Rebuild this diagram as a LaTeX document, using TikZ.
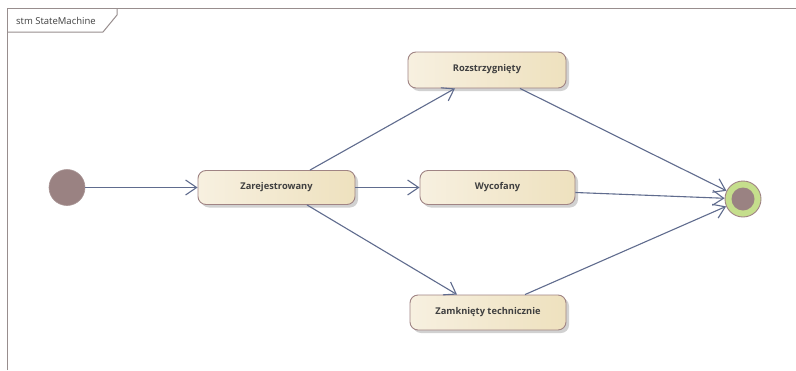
\documentclass[tikz,border=0pt]{standalone}
\usepackage{fontspec}
\setmainfont{Open Sans}
\usetikzlibrary{arrows.meta,calc,shadows}
\definecolor{framegray}{RGB}{152,142,142}
\definecolor{statebrd}{RGB}{160,132,132}
\definecolor{stateL}{RGB}{247,240,224}
\definecolor{stateR}{RGB}{238,225,190}
\definecolor{pseudo}{RGB}{154,130,130}
\definecolor{finalring}{RGB}{197,222,140}
\definecolor{flow}{RGB}{96,108,142}
\definecolor{txt}{RGB}{64,64,64}
\tikzset{
  statebox/.style={draw=statebrd, line width=0.9pt, rounded corners=8pt,
    left color=stateL, right color=stateR, shading angle=90,
    minimum height=34pt, text=txt, font=\fontsize{9.3}{11}\selectfont\bfseries,
    drop shadow={shadow xshift=3pt, shadow yshift=-3pt, fill=black!18, opacity=1}},
  flowline/.style={draw=flow, line width=1.1pt,
    -{Straight Barb[length=11pt,width=15pt,line width=1.1pt]}},
  initstate/.style={circle, fill=pseudo, draw=pseudo!85!white, line width=0.6pt,
    minimum size=36pt, inner sep=0pt},
}
\begin{document}
\begin{tikzpicture}[x=1pt,y=-1pt]
\useasboundingbox (0,0) rectangle (796,370);
\fill[white] (0,0) rectangle (796,370);

% diagram frame and its name tab
\draw[framegray, line width=1.6pt] (7.5,370) -- (7.5,8.5) -- (796,8.5);
\draw[framegray, line width=1pt] (7.5,32) -- (103,32) -- (117,15) -- (117,8.5);
\node[anchor=west, text=txt, font=\fontsize{9.5}{12}\selectfont, inner sep=0pt]
  (tab) at (16,20.5) {stm StateMachine};

% states
\node[initstate] (init) at (67,187.5) {};
\node[statebox, minimum width=157pt] (zar) at (276.5,187.5) {\raisebox{4pt}{Zarejestrowany}};
\node[statebox, minimum width=158pt, minimum height=36pt] (roz) at (487,70) {\raisebox{4pt}{Rozstrzygnięty}};
\node[statebox, minimum width=155pt] (wyc) at (497.5,187.5) {\raisebox{4pt}{Wycofany}};
\node[statebox, minimum width=156pt, minimum height=35pt] (zam) at (488,312.5) {\raisebox{4pt}{Zamknięty technicznie}};

% final state
\node[circle, fill=finalring, draw=statebrd, line width=0.9pt,
      minimum size=36pt, inner sep=0pt] (fin) at (743,199) {};
\node[circle, fill=pseudo, minimum size=23pt, inner sep=0pt] (finc) at (fin.center) {};

% transitions
\draw[flowline] (init.east) -- (zar.west);
\draw[flowline] ($(zar.north)+(33.5,0)$) -- ($(roz.south)+(-32,0)$);
\draw[flowline] (zar.east) -- (wyc.west);
\draw[flowline] ($(zar.south)+(30.5,0)$) -- ($(zam.north)+(-31,0)$);
\draw[flowline] ($(roz.south)+(33,0)$) -- (fin);
\draw[flowline] ($(wyc.east)+(0,5)$) -- (fin);
\draw[flowline] ($(zam.north)+(37,0)$) -- (fin);
\end{tikzpicture}
\end{document}
